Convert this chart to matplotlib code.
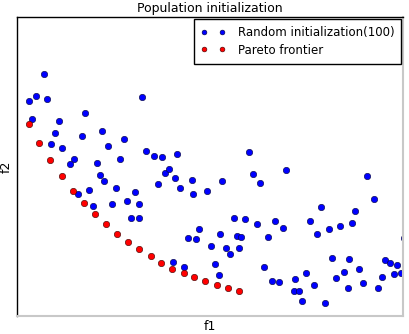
import matplotlib
matplotlib.use("Agg")
import matplotlib.pyplot as plt

# population (f1, f2), arbitrary units
rand_f1 = [27, 19, 12, 30, 125, 68, 15, 42, 38, 85, 65, 107, 34, 45, 91, 129,
           57, 53, 80, 103, 83, 87, 99, 118, 61, 72, 76, 95, 110, 122, 114, 122,
           148, 152, 141, 158, 163, 175, 176, 190, 205, 236, 243, 217, 228, 240,
           258, 182, 203, 171, 179, 220, 224, 251, 194, 209, 222, 213, 156, 167,
           198, 247, 202, 255, 262, 137, 145, 160, 232, 269, 350, 357, 304, 338,
           293, 335, 323, 312, 300, 266, 387, 315, 332, 368, 373, 380, 342, 327,
           289, 365, 377, 384, 319, 278, 297, 346, 361, 331, 277, 282, 285, 308]
rand_f2 = [242, 220, 215, 217, 219, 203, 197, 195, 183, 185, 180, 177, 172, 168,
           170, 165, 157, 152, 153, 157, 141, 135, 128, 124, 122, 126, 110, 112,
           115, 112, 98, 98, 143, 147, 132, 138, 128, 136, 122, 125, 135, 142,
           133, 98, 97, 92, 95, 87, 82, 78, 77, 80, 79, 79, 70, 68, 68, 62, 54,
           49, 52, 49, 41, 35, 34, 160, 159, 162, 164, 146, 140, 117, 109, 105,
           95, 93, 90, 87, 82, 88, 78, 58, 57, 56, 53, 51, 47, 44, 43, 39, 42,
           43, 38, 37, 31, 33, 28, 28, 25, 25, 15, 13]

pareto_f1 = [12, 22, 33, 45, 56, 67, 78, 89, 100, 111, 122, 134, 144, 155,
             167, 177, 188, 200, 211, 222]
pareto_f2 = [192, 173, 156, 140, 125, 113, 102, 92, 82, 74, 67, 60, 53, 47,
             43, 39, 35, 31, 28, 25]

fig = plt.figure(figsize=(4.10, 3.34), dpi=100)
ax = fig.add_axes([17/410, 18/334, 386/410, 299/334])

ax.plot(rand_f1, rand_f2, 'o', color='#0000ff', markeredgecolor='#000033',
        markeredgewidth=0.4, markersize=4.6, label='Random initialization(100)')
ax.plot(pareto_f1, pareto_f2, 'o', color='#ff0000', markeredgecolor='#330000',
        markeredgewidth=0.4, markersize=4.6, label='Pareto frontier')

ax.set_xlim(0, 386)
ax.set_ylim(0, 299)
ax.set_xticks([])
ax.set_yticks([])

for side in ['left', 'top']:
    ax.spines[side].set_color('black')
    ax.spines[side].set_linewidth(1.0)
for side in ['right', 'bottom']:
    ax.spines[side].set_color('#c8c8c8')
    ax.spines[side].set_linewidth(1.5)

ax.set_title('Population initialization', fontsize=9, pad=3.5)
ax.set_xlabel('f1', fontsize=9, labelpad=3)
ax.set_ylabel('f2', fontsize=9, labelpad=3)

leg = ax.legend(loc='upper right', numpoints=2, fontsize=8.5, markerscale=0.75,
                fancybox=False, framealpha=1, edgecolor='black',
                borderaxespad=0.15, handlelength=2.1, handletextpad=1.0,
                borderpad=0.6, labelspacing=0.4)
leg.get_frame().set_linewidth(1.0)

fig.savefig('out.png', dpi=100)
